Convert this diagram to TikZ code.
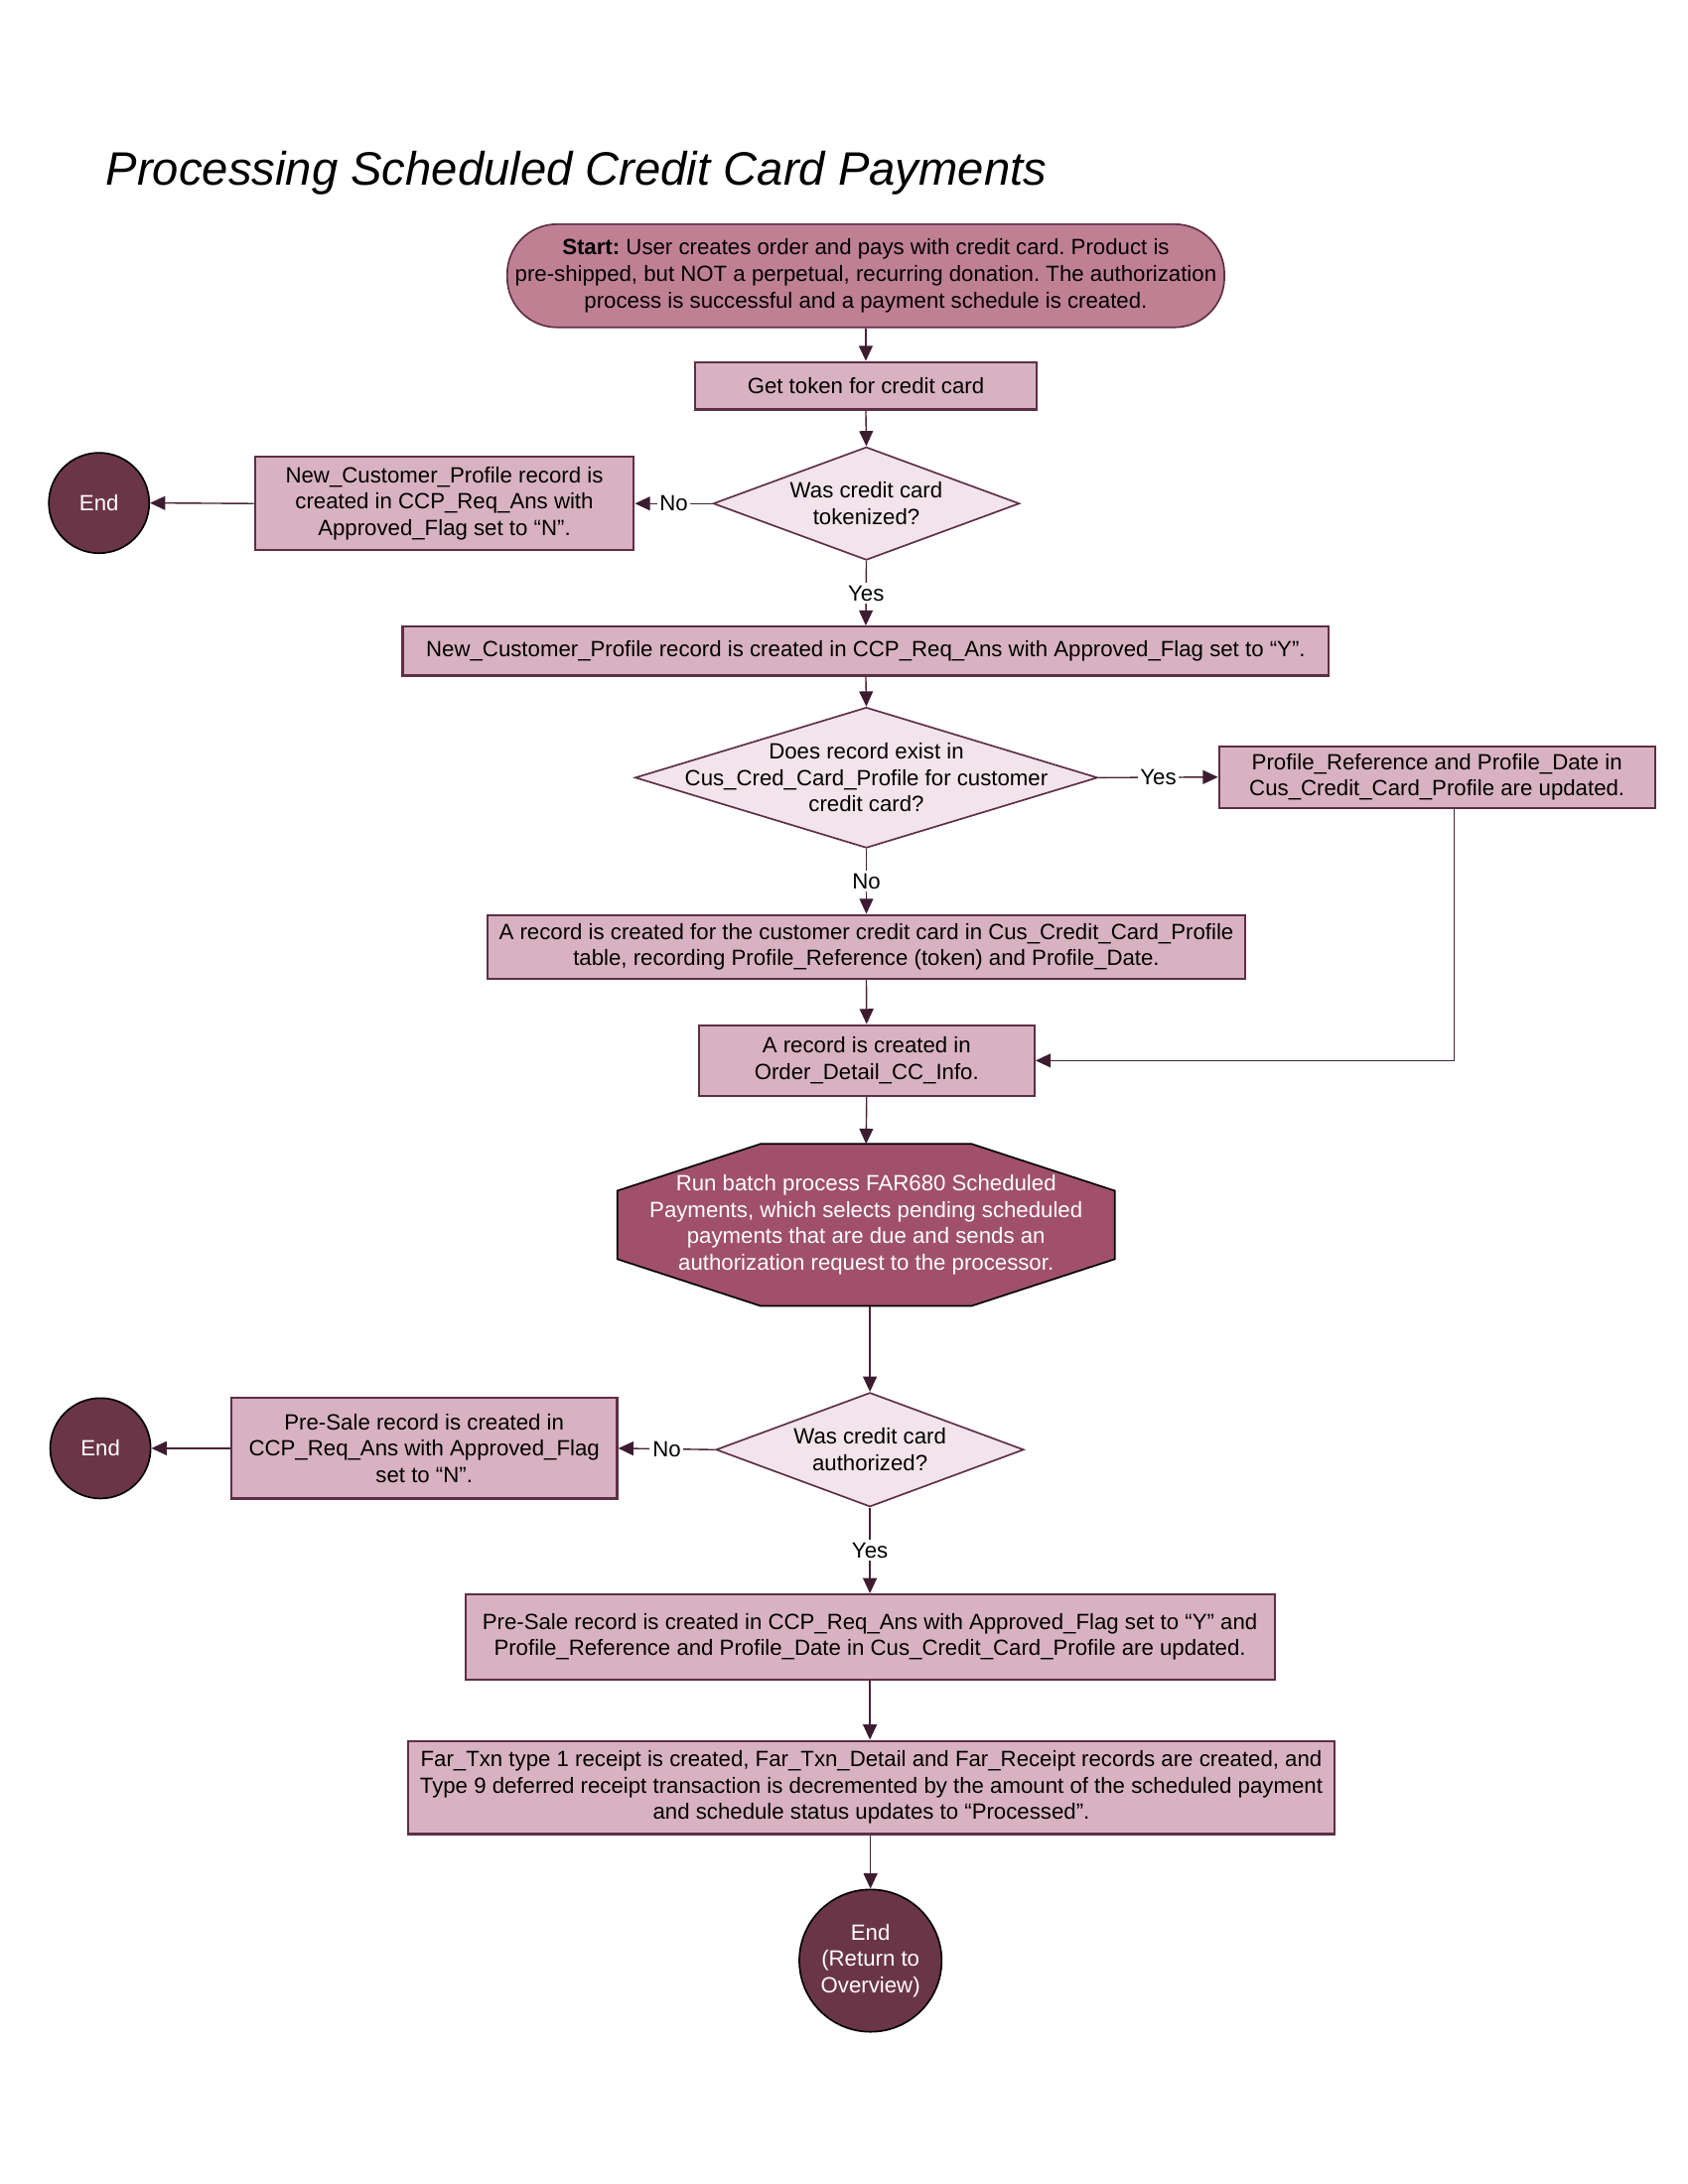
\documentclass[tikz,border=0pt]{standalone}
\usepackage{fontspec}
\setmainfont{Liberation Sans}
\frenchspacing
\usetikzlibrary{shapes.geometric,arrows.meta,calc,backgrounds}
\definecolor{boxfill}{HTML}{D8B2C1}
\definecolor{boxline}{HTML}{5E2E46}
\definecolor{dfill}{HTML}{F2E4EA}
\definecolor{startfill}{HTML}{C08094}
\definecolor{octfill}{HTML}{A0506A}
\definecolor{endfill}{HTML}{6B3548}
\definecolor{arrcol}{HTML}{3D1C32}
\definecolor{linecol}{HTML}{4A2238}
\begin{document}
\begin{tikzpicture}[x=1pt,y=-1pt,
  txt/.style={font=\fontsize{8}{9.6}\selectfont, align=center},
  procbox/.style={txt, draw=boxline, line width=0.8pt, fill=boxfill, inner sep=0pt},
  startbox/.style={txt, draw=boxline, line width=0.6pt, fill=startfill, inner sep=0pt, rounded corners=18pt},
  decision/.style={diamond, draw=boxline, line width=0.6pt, fill=dfill, inner sep=0pt},
  dlabel/.style={txt, inner sep=0pt},
  endnode/.style={circle, draw=black, line width=0.6pt, fill=endfill, text=white, txt, inner sep=0pt},
  conn/.style={draw=linecol, line width=0.5pt, -{Triangle[length=5.5pt,width=5pt,color=arrcol]}},
  lab/.style={txt, fill=white, inner sep=1pt},
]
\useasboundingbox (0,0) rectangle (612,792);

\node[anchor=base west, font=\fontsize{17}{20}\selectfont\itshape] (title) at (34.9,67.2) {Processing Scheduled Credit Card Payments};

\node[startbox, minimum width=260pt, minimum height=37.4pt] (start) at (313.9,100)
  {\textbf{Start:} User creates order and pays with credit card. Product is\\
   pre-shipped, but NOT a perpetual, recurring donation. The authorization\\
   process is successful and a payment schedule is created.};

\node[procbox, minimum width=123.7pt, minimum height=17.2pt] (token) at (313.9,139.9) {Get token for credit card};

\node[decision, minimum width=111pt, minimum height=41pt] (d1) at (314.1,182.6) {};
\node[dlabel] (d1t) at (d1.center) {Was credit card\\tokenized?};

\node[procbox, minimum width=137.4pt, minimum height=33.8pt] (n1) at (161.1,182.6)
  {New\_Customer\_Profile record is\\created in CCP\_Req\_Ans with\\Approved\_Flag set to “N”.};

\node[endnode, minimum size=36.4pt] (end1) at (35.9,182.4) {End};

\node[procbox, minimum width=335.8pt, minimum height=17.7pt] (y1) at (313.9,236.1)
  {New\_Customer\_Profile record is created in CCP\_Req\_Ans with Approved\_Flag set to “Y”.};

\node[decision, minimum width=167.7pt, minimum height=51pt] (d2) at (314.1,282) {};
\node[dlabel] (d2t) at (d2.center) {Does record exist in\\Cus\_Cred\_Card\_Profile for customer\\credit card?};

\node[procbox, minimum width=158pt, minimum height=22.2pt] (rbox) at (521,281.8)
  {Profile\_Reference and Profile\_Date in\\Cus\_Credit\_Card\_Profile are updated.};

\node[procbox, minimum width=274.7pt, minimum height=23.2pt] (abox) at (314.1,343.4)
  {A record is created for the customer credit card in Cus\_Credit\_Card\_Profile\\
   table, recording Profile\_Reference (token) and Profile\_Date.};

\node[procbox, minimum width=121.7pt, minimum height=25.7pt] (obox) at (314.2,384.6)
  {A record is created in\\Order\_Detail\_CC\_Info.};

\node[txt, text=white, minimum width=180pt, minimum height=58.4pt, inner sep=0pt] (batch) at (314,444.2)
  {Run batch process FAR680 Scheduled\\Payments, which selects pending scheduled\\payments that are due and sends an\\authorization request to the processor.};
\begin{scope}[on background layer]
\fill[white] (0,0) rectangle (612,792);
\draw[fill=octfill, draw=black, line width=0.6pt]
  ($(batch.north west)+(52,0)$) -- ($(batch.north east)+(-52,0)$) -- ($(batch.north east)+(0,17)$)
  -- ($(batch.south east)+(0,-17)$) -- ($(batch.south east)+(-52,0)$) -- ($(batch.south west)+(52,0)$)
  -- ($(batch.south west)+(0,-17)$) -- ($(batch.north west)+(0,17)$) -- cycle;
\end{scope}

\node[decision, minimum width=111.6pt, minimum height=41.4pt] (d3) at (315.4,525.7) {};
\node[dlabel] (d3t) at (d3.center) {Was credit card\\authorized?};

\node[procbox, minimum width=139.9pt, minimum height=36.4pt] (n2) at (153.8,525.2)
  {Pre-Sale record is created in\\CCP\_Req\_Ans with Approved\_Flag\\set to “N”.};

\node[endnode, minimum size=36.4pt] (end2) at (36.4,525.2) {End};

\node[procbox, minimum width=293.4pt, minimum height=30.8pt] (y2) at (315.4,593.6)
  {Pre-Sale record is created in CCP\_Req\_Ans with Approved\_Flag set to “Y” and\\
   Profile\_Reference and Profile\_Date in Cus\_Credit\_Card\_Profile are updated.};

\node[procbox, minimum width=335.8pt, minimum height=33.8pt] (far) at (315.9,648.2)
  {Far\_Txn type 1 receipt is created, Far\_Txn\_Detail and Far\_Receipt records are created, and\\
   Type 9 deferred receipt transaction is decremented by the amount of the scheduled payment\\
   and schedule status updates to “Processed”.};

\node[endnode, minimum size=51.6pt] (end3) at (315.6,711) {End\\(Return to\\Overview)};

% connectors
\draw[conn] (start.south) -- (token.north);
\draw[conn] (token.south) -- (d1.north);
\draw[conn] (d1.west) -- node[lab]{No} (n1.east);
\draw[conn] (n1.west) -- (end1.east);
\draw[conn] (d1.south) -- node[lab]{Yes} (y1.north);
\draw[conn] (y1.south) -- (d2.north);
\draw[conn] (d2.east) -- node[lab]{Yes} (rbox.west);
\draw[conn] (d2.south) -- node[lab]{No} (abox.north);
\draw[conn] ([xshift=6.2pt]rbox.south) |- (obox.east);
\draw[conn] (abox.south) -- (obox.north);
\draw[conn] (obox.south) -- (batch.north);
\draw[conn] (d3.north |- batch.south) -- (d3.north);
\draw[conn] (d3.west) -- node[lab]{No} (n2.east);
\draw[conn] (n2.west) -- (end2.east);
\draw[conn] (d3.south) -- node[lab]{Yes} (y2.north);
\draw[conn] (y2.south) -- (y2.south |- far.north);
\draw[conn] (end3.north |- far.south) -- (end3.north);
\end{tikzpicture}
\end{document}
